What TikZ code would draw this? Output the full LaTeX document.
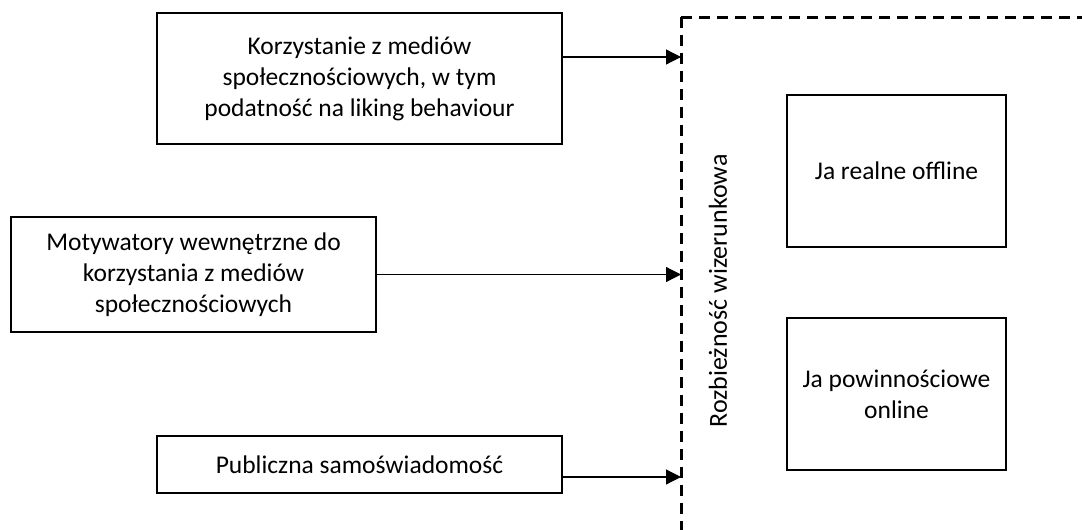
\documentclass[tikz,border=0pt]{standalone}
\usepackage{fontspec}
\setmainfont{Carlito}
\usetikzlibrary{arrows.meta}
\begin{document}
\begin{tikzpicture}[x=1pt,y=-1pt,
  box/.style={draw, line width=1.2pt, align=center, inner sep=0pt, font=\fontsize{25.5}{31}\selectfont},
  arr/.style={-{Triangle[length=15pt,width=15pt]}, line width=1.2pt},
  dash line/.style={line width=3pt, dash pattern=on 11pt off 7pt},
  lbl/.style={font=\fontsize{26}{31}\selectfont}]
\useasboundingbox (0,0) rectangle (1082,530);
\node[box, minimum width=405pt, minimum height=131pt] (k) at (359.5,78.5)
  {Korzystanie z mediów\\społecznościowych, w tym\\podatność na liking behaviour};
\node[box, minimum width=365pt, minimum height=115pt] (m) at (193.5,274.5)
  {Motywatory wewnętrzne do\\korzystania z mediów\\społecznościowych};
\node[box, minimum width=405pt, minimum height=57pt] (p) at (359.5,464.5)
  {Publiczna samoświadomość};
\node[box, minimum width=219pt, minimum height=152pt] (r) at (896.5,171)
  {Ja realne offline};
\node[box, minimum width=219pt, minimum height=152pt] (o) at (896.5,394)
  {Ja powinnościowe\\online};
\coordinate (c) at (681,17);
\coordinate (cb) at (681,530);
\coordinate (cr) at (1082,17);
\coordinate (t1) at (681,57);
\coordinate (t3) at (681,477);
\draw[dash line] (c) -- (cr);
\draw[dash line] (c) -- (cb);
\node[lbl, rotate=90] (lab) at (718,291) {Rozbieżność wizerunkowa};
\draw[arr] (k.east |- t1) -- (t1);
\draw[arr] (m.east) -- (m.east -| c);
\draw[arr] (p.east |- t3) -- (t3);
\end{tikzpicture}
\end{document}
